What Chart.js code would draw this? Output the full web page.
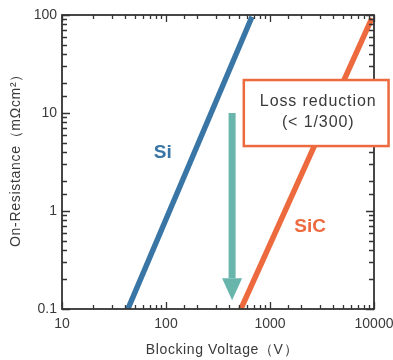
<!DOCTYPE html>
<html><head><meta charset="utf-8">
<script src="https://cdn.jsdelivr.net/npm/chart.js@4"></script>
<style>html,body{margin:0;padding:0;background:#fff}#wrap{width:393px;height:360px}</style>
</head><body><div id="wrap"><canvas id="c" width="393" height="360"></canvas></div>
<script>
const xTicks = [10, 100, 1000, 10000];
const yTicks = [0.1, 1, 10, 100];
const siV = [43, 671];
const siR = [0.1, 96];
const sicV = [525, 9550];
const sicR = [0.1, 93];
const arrowV = 432;
const arrowR = [10, 0.123];
const boxV = [560, 13800];
const boxR = [21.7, 4.6];
const boxText = ['Loss reduction', '(< 1/300)'];
const labelSi = {v: 93, r: 3.9, text: 'Si'};
const labelSiC = {v: 2430, r: 0.69, text: 'SiC'};
const xTitle = 'Blocking Voltage（V）';
const yTitle = 'On-Resistance（mΩcm²）';

const FONT = '"Liberation Sans", Arial, sans-serif';
const TXT = '#3a3a3a';

const isMajor = v => Math.abs(Math.log10(v) - Math.round(Math.log10(v))) < 1e-6;

const overlay = {
  id: 'overlay',
  afterDraw(chart) {
    const {ctx, chartArea: a, scales: {x, y}} = chart;
    ctx.save();
    ctx.strokeStyle = '#333';
    ctx.lineWidth = 1.8;
    ctx.strokeRect(a.left, a.top, a.right - a.left, a.bottom - a.top);
    ctx.lineWidth = 1.3;
    ctx.beginPath();
    x.ticks.forEach(t => {
      const px = Math.round(x.getPixelForValue(t.value)) + 0.5;
      const L = isMajor(t.value) ? 7 : 4;
      ctx.moveTo(px, a.bottom); ctx.lineTo(px, a.bottom - L);
      ctx.moveTo(px, a.top); ctx.lineTo(px, a.top + L);
    });
    y.ticks.forEach(t => {
      const py = Math.round(y.getPixelForValue(t.value)) + 0.5;
      const L = isMajor(t.value) ? 8 : 5;
      ctx.moveTo(a.left, py); ctx.lineTo(a.left + L, py);
      ctx.moveTo(a.right, py); ctx.lineTo(a.right - L, py);
    });
    ctx.stroke();
    // arrow
    const ax = x.getPixelForValue(arrowV);
    const ay0 = y.getPixelForValue(arrowR[0]);
    const ay1 = y.getPixelForValue(arrowR[1]);
    ctx.fillStyle = '#68b5ac';
    ctx.fillRect(ax - 3.5, ay0, 7, (ay1 - 22) - ay0);
    ctx.beginPath();
    ctx.moveTo(ax - 10, ay1 - 22);
    ctx.lineTo(ax + 10, ay1 - 22);
    ctx.lineTo(ax, ay1);
    ctx.closePath();
    ctx.fill();
    // box
    const bx0 = x.getPixelForValue(boxV[0]), bx1 = x.getPixelForValue(boxV[1]);
    const by0 = y.getPixelForValue(boxR[0]), by1 = y.getPixelForValue(boxR[1]);
    ctx.fillStyle = '#fff';
    ctx.fillRect(bx0, by0, bx1 - bx0, by1 - by0);
    ctx.strokeStyle = '#ec6a3e';
    ctx.lineWidth = 2.5;
    ctx.strokeRect(bx0, by0, bx1 - bx0, by1 - by0);
    ctx.fillStyle = TXT;
    ctx.font = '16px ' + FONT;
    ctx.letterSpacing = '0.9px';
    ctx.textAlign = 'center';
    ctx.textBaseline = 'middle';
    const cx = (bx0 + bx1) / 2 + 2;
    ctx.fillText(boxText[0], cx, (by0 + by1) / 2 - 11);
    ctx.fillText(boxText[1], cx, (by0 + by1) / 2 + 10);
    // axis titles
    ctx.font = '14px ' + FONT;
    ctx.letterSpacing = '0.6px';
    ctx.fillStyle = TXT;
    ctx.fillText(xTitle, (a.left + a.right) / 2 + 4, 350);
    ctx.save();
    ctx.translate(16, (a.top + a.bottom) / 2 - 5);
    ctx.rotate(-Math.PI / 2);
    ctx.letterSpacing = '0.7px';
    ctx.fillText(yTitle, 0, 0);
    ctx.restore();
    ctx.letterSpacing = '0px';
    // series labels
    ctx.font = 'bold 19px ' + FONT;
    ctx.fillStyle = '#3a76a5';
    ctx.fillText(labelSi.text, x.getPixelForValue(labelSi.v), y.getPixelForValue(labelSi.r));
    ctx.fillStyle = '#ec6a3e';
    ctx.fillText(labelSiC.text, x.getPixelForValue(labelSiC.v), y.getPixelForValue(labelSiC.r));
    ctx.restore();
  }
};

new Chart(document.getElementById('c'), {
  type: 'line',
  data: {
    datasets: [
      {label: 'Si', data: siV.map((v, i) => ({x: v, y: siR[i]})), borderColor: '#3a76a5', borderWidth: 5.5, pointRadius: 0, borderCapStyle: 'butt'},
      {label: 'SiC', data: sicV.map((v, i) => ({x: v, y: sicR[i]})), borderColor: '#ec6a3e', borderWidth: 5.5, pointRadius: 0, borderCapStyle: 'butt'}
    ]
  },
  options: {
    responsive: false,
    animation: false,
    events: [],
    layout: {padding: {left: 0, right: 19, top: 15, bottom: 0}},
    plugins: {legend: {display: false}, tooltip: {enabled: false}},
    scales: {
      x: {
        type: 'logarithmic', min: 10, max: 10000,
        grid: {display: false, drawTicks: false}, border: {display: false},
        ticks: {autoSkip: false, maxRotation: 0, padding: 7, color: TXT, font: {family: FONT, size: 14},
          callback: (v) => xTicks.includes(v) ? String(v) : ''},
        title: {display: false},
        afterFit: s => { s.height = 51; s.paddingLeft = 0; s.paddingRight = 0; }
      },
      y: {
        type: 'logarithmic', min: 0.1, max: 100,
        grid: {display: false, drawTicks: false}, border: {display: false},
        ticks: {autoSkip: false, padding: 5, color: TXT, font: {family: FONT, size: 14},
          callback: (v) => yTicks.includes(v) ? String(v) : ''},
        title: {display: false},
        afterFit: s => { s.width = 62; s.paddingTop = 0; s.paddingBottom = 0; }
      }
    }
  },
  plugins: [overlay]
});
</script></body></html>
